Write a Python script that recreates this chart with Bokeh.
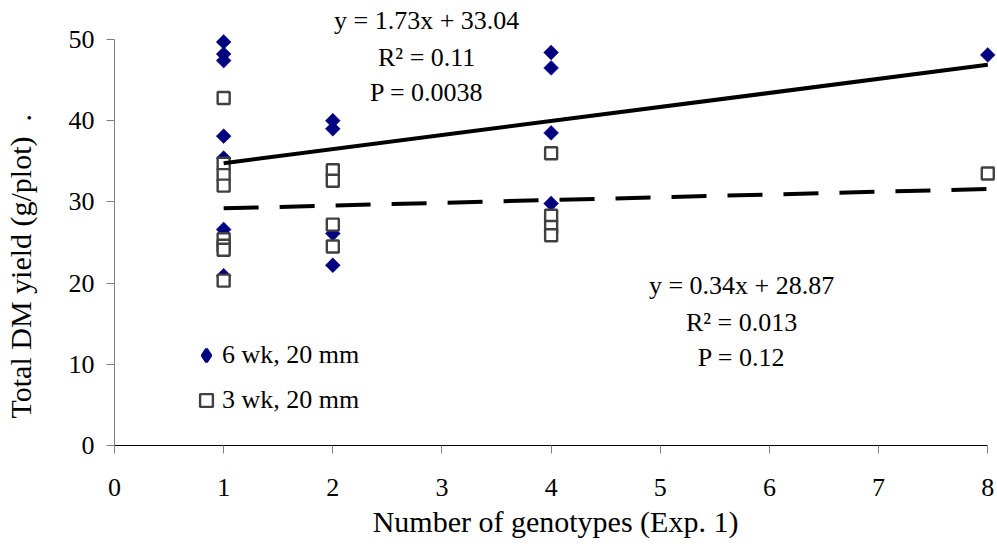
import math
from bokeh.plotting import figure
from bokeh.models import Range1d, FixedTicker, Label, Legend, LegendItem
from bokeh.embed import file_html
from bokeh.resources import INLINE

# ---- data ----
wk6_x = [1, 1, 1, 1, 1, 1, 1, 2, 2, 2, 2, 4, 4, 4, 4, 8]
wk6_y = [49.7, 48.2, 47.4, 38.1, 35.4, 26.6, 20.9, 40.0, 39.0, 26.1, 22.2, 48.4, 46.5, 38.5, 29.8, 48.1]

wk3_x = [1, 1, 1, 1, 1, 1, 1, 1, 2, 2, 2, 2, 4, 4, 4, 4, 8]
wk3_y = [42.8, 34.7, 33.3, 32.0, 25.4, 24.6, 24.1, 20.3, 33.9, 32.6, 27.2, 24.5, 36.0, 28.3, 26.9, 25.9, 33.5]

series_names = ["6 wk, 20 mm", "3 wk, 20 mm"]
fit_slope = [1.73, 0.34]
fit_intercept = [33.04, 28.87]
fit_r2 = ["0.11", "0.013"]
fit_p = ["0.0038", "0.12"]

x_ticks = [0, 1, 2, 3, 4, 5, 6, 7, 8]
y_ticks = [0, 10, 20, 30, 40, 50]
x_title = "Number of genotypes (Exp. 1)"
y_title = "Total DM yield (g/plot)"

FONT = "Liberation Serif"
NBSP = "\u00a0"

p = figure(width=997, height=550,
           x_range=Range1d(0, 8.08), y_range=Range1d(0, 54.31),
           output_backend="svg", toolbar_location=None,
           min_border_left=114, min_border_right=1,
           min_border_top=4, min_border_bottom=105)
p.outline_line_color = None
p.grid.visible = False
p.background_fill_color = "white"
p.border_fill_color = "white"

# axes
xa = p.xaxis[0]
ya = p.yaxis[0]
xa.bounds = (0, 8)
ya.bounds = (0, 50)
xa.ticker = FixedTicker(ticks=x_ticks)
ya.ticker = FixedTicker(ticks=y_ticks)
p.axis.minor_tick_line_color = None
p.axis.major_tick_in = 0
p.axis.major_tick_out = 8
p.axis.major_tick_line_color = "#808080"
p.axis.major_label_text_font = FONT
p.axis.major_label_text_font_style = "normal"
p.axis.major_label_text_font_size = "26px"
p.axis.major_label_text_color = "black"
p.axis.axis_label_text_font = FONT
p.axis.axis_label_text_font_style = "normal"
p.axis.axis_label_text_font_size = "30px"
p.axis.axis_label_text_color = "black"
xa.axis_line_color = "black"
ya.axis_line_color = "#808080"
xa.major_label_standoff = 25
ya.major_label_standoff = 12
xa.axis_label = x_title
xa.axis_label_standoff = 6
ya.axis_label = y_title + NBSP * 2 + "." + NBSP * 11
ya.axis_label_standoff = 29

# points (a small diamond copy under each 6-wk marker supplies the legend symbol)
leg6 = p.scatter(wk6_x, wk6_y, marker="diamond", size=7,
                 fill_color="#000080", line_color="#000080", line_width=3)
r6 = p.scatter(wk6_x, wk6_y, marker="square", angle=math.pi / 4, size=10.5,
               fill_color="#000080", line_color="#000080", line_width=0.5)
r3 = p.scatter(wk3_x, wk3_y, marker="square", size=12,
               fill_color="white", line_color="#404040", line_width=2.4)

# trend lines
dashes = ["solid", "35 21"]
xs_all = [wk6_x, wk3_x]
for m, b, d, xs in zip(fit_slope, fit_intercept, dashes, xs_all):
    x0, x1 = min(xs), max(xs)
    p.line([x0, x1], [m * x0 + b, m * x1 + b], line_color="black",
           line_width=4, line_dash=d)

# equation annotations
ann_pos = [(2.86, [52.34, 47.78, 43.47]), (5.745, [19.7, 15.15, 10.85])]
for (ax_, ys), m, b, r2, pv in zip(ann_pos, fit_slope, fit_intercept, fit_r2, fit_p):
    lines = [f"y = {m:.2f}x + {b:.2f}", f"R\u00b2 = {r2}", f"P = {pv}"]
    for t, yy in zip(lines, ys):
        p.add_layout(Label(x=ax_, y=yy, text=t, text_align="center",
                           text_baseline="middle", text_font=FONT,
                           text_font_size="26px", text_color="black"))

# legend
legend = Legend(items=[LegendItem(label=series_names[0], renderers=[leg6]),
                       LegendItem(label=series_names[1], renderers=[r3])],
                location=(76, 29), orientation="vertical",
                background_fill_alpha=0, border_line_color=None,
                padding=0, margin=0, spacing=13,
                glyph_width=32, glyph_height=32, label_height=32,
                label_standoff=0,
                label_text_font=FONT, label_text_font_size="26px",
                label_text_color="black")
p.add_layout(legend)

open("out.html", "w").write(file_html(p, INLINE))
